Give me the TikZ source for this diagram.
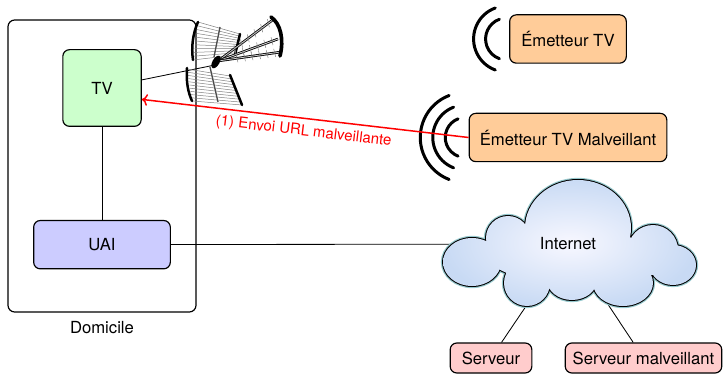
\documentclass[tikz,border=0pt]{standalone}
\usepackage{fontspec}
\setmainfont{TeX Gyre Heros}
\usepackage{tikz}
\usetikzlibrary{positioning}
\usetikzlibrary{calc}
\usetikzlibrary{arrows.meta}

\definecolor{nuage}{RGB}{200,218,244}
\definecolor{halo}{RGB}{150,200,205}

% bulles du nuage Internet
\newcommand{\bulles}{(472,114) ellipse (29 and 24)
  (508,138) circle (22)
  (578,148) ellipse (53 and 48)
  (653,126) circle (25)
  (673,111) ellipse (23 and 20)
  (623,93) ellipse (30 and 23)
  (572,96) ellipse (25 and 20)
  (527,93) circle (23)
  (568,121) ellipse (80 and 28)}

\tikzset{
  boite/.style={draw, line width=0.7pt, rounded corners=4pt},
  onde/.style={line width=1.8pt, line cap=round},
  lien/.style={draw, line width=0.5pt},
  tige/.style={line width=1.5pt, line cap=round},
  grille/.style={gray, line width=0.3pt},
}

\begin{document}
\begin{tikzpicture}[x=0.6pt, y=0.6pt]
    \useasboundingbox (0,0) rectangle (724,376);

    % domicile
    \node[boite, minimum width=112.8pt, minimum height=175.2pt] (domicile) at (102,210) {};
    \node[below=1.5pt of domicile] (dom) {Domicile};
    \node[boite, fill=green!20, minimum width=47pt, minimum height=46pt] (tv) at (102,288) {TV};
    \node[boite, fill=blue!20, minimum width=82pt, minimum height=29pt, below=55.8pt of tv] (uai) {UAI};
    \draw[lien] (tv) -- (uai);

    % emetteurs
    \node[boite, fill=orange!40, minimum width=70pt, minimum height=29pt] (emtv) at (568,337) {Émetteur TV};
    \node[boite, fill=orange!40, minimum height=29pt, inner xsep=6.4pt, below=29.4pt of emtv] (emmal) {Émetteur TV Malveillant};
    \coordinate (otv) at ([xshift=-1.5pt]emtv.west);
    \coordinate (omal) at ([xshift=-2pt]emmal.west);
    \foreach \r in {21,33}
      \draw[onde] (otv) ++(110:\r) arc[start angle=110, end angle=250, radius=\r];
    \foreach \r in {20,32.5,45}
      \draw[onde] (omal) ++(111:\r) arc[start angle=111, end angle=249, radius=\r];

    % serveurs
    \node[boite, fill=red!20, minimum width=49pt, minimum height=18pt] (srv) at (491,18) {Serveur};
    \node[boite, fill=red!20, minimum height=18pt, inner xsep=4.5pt] (srvmal) at (643.5,18) {Serveur malveillant};

    % nuage
    \coordinate (inet) at (568,132);
    \draw[lien] (uai) -- (inet);
    \draw[lien] (inet) -- (srv);
    \draw[lien] (inet) -- (srvmal);
    \draw[halo, line width=2.6pt] \bulles;
    \draw[line width=1.2pt] \bulles;
    \begin{scope}
      \clip \bulles;
      \shade[inner color=blue!3, outer color=nuage] (442,68) rectangle (697,198);
    \end{scope}
    \node (internet) at (inet) {Internet};

    % antenne
    \coordinate (ant) at (215,311);
    \draw[lien] (tv) -- (ant);
    \begin{scope}[shift={(0,376)}, yscale=-1]
      \foreach \i in {0,...,10}
        \draw[grille] (198-0.5*\i, 22+3.8*\i) -- (240-0.5*\i, 34+2.1*\i);
      \foreach \i in {0,...,10}
        \draw[grille] (187+0.5*\i, 69+3.2*\i) -- (230+1.2*\i, 76+2.9*\i);
      \draw[tige] (198,22) .. controls (193,33) and (191,47) .. (193,60);
      \draw[tige] (187,68) .. controls (186,82) and (188,92) .. (192,101);
      \draw[tige] (240,34) -- (235,55);
      \draw[tige] (230,75) -- (242,105);
      \draw[black!70, line width=0.8pt] (220,27) -- (214,57);
      \draw[black!70, line width=0.8pt] (210,67) -- (218,102);
      % yagi
      \foreach \bx/\by in {274/19, 278/39, 281/52} {
        \draw[line width=1.5pt] (218,61) -- (\bx,\by);
        \draw[gray!35, line width=0.5pt] (218,61) -- (\bx,\by);
        \foreach \t in {0.3,0.42,...,0.95}
          \draw[grille] ($(218,61)!\t!(\bx,\by)+(-1,-4)$) -- ($(218,61)!\t!(\bx,\by)+(1,4)$);
      }
      \draw[line width=2.2pt, line cap=round] (271,17) .. controls (281,24) and (284,40) .. (280,56);
      \fill[rotate around={30:(216,62)}] (216,62) ellipse (3.5 and 7);
    \end{scope}

    % attaque
    \draw[red, line width=0.9pt, -{To[length=3.5pt, width=7pt]}] (emmal.west) -- node[midway, sloped, below, font=\small] {(1) Envoi URL malveillante} (tv.-16);
\end{tikzpicture}
\end{document}
